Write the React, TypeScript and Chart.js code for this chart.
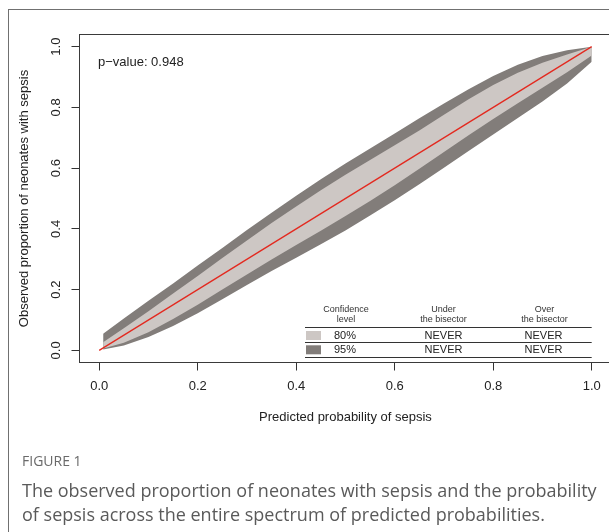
import React, { useEffect, useRef } from "react";
import { Chart, registerables } from "chart.js";

Chart.register(...registerables);

// ---- data ----
const predicted = [0.008, 0.05, 0.10, 0.15, 0.20, 0.25, 0.30, 0.35, 0.40, 0.45, 0.50, 0.55, 0.60, 0.65, 0.70, 0.75, 0.80, 0.85, 0.90, 0.95, 1.0];
const upper95 = [0.055, 0.105, 0.163, 0.220, 0.279, 0.337, 0.396, 0.453, 0.509, 0.563, 0.615, 0.665, 0.714, 0.764, 0.813, 0.860, 0.903, 0.940, 0.969, 0.988, 1.0];
const upper80 = [0.027, 0.073, 0.129, 0.187, 0.245, 0.304, 0.362, 0.419, 0.474, 0.527, 0.578, 0.627, 0.675, 0.724, 0.776, 0.827, 0.874, 0.914, 0.947, 0.974, 1.0];
const lower80 = [0.006, 0.025, 0.060, 0.103, 0.150, 0.200, 0.250, 0.299, 0.347, 0.394, 0.442, 0.492, 0.544, 0.598, 0.653, 0.708, 0.762, 0.814, 0.865, 0.916, 0.971];
const lower95 = [0.003, 0.016, 0.044, 0.080, 0.122, 0.168, 0.215, 0.261, 0.305, 0.349, 0.395, 0.444, 0.494, 0.547, 0.601, 0.656, 0.711, 0.765, 0.819, 0.879, 0.950];
const bisectorX = [0, 1];
const bisectorY = [0, 1];
const xTicks = [0, 0.2, 0.4, 0.6, 0.8, 1.0];
const yTicks = [0, 0.2, 0.4, 0.6, 0.8, 1.0];
const tableHeaders = [["Confidence", "level"], ["Under", "the bisector"], ["Over", "the bisector"]];
const confidenceLevels = ["80%", "95%"];
const underBisector = ["NEVER", "NEVER"];
const overBisector = ["NEVER", "NEVER"];
const pValueText = "p\u2212value: 0.948";
const xTitle = "Predicted probability of sepsis";
const yTitle = "Observed proportion of neonates with sepsis";
const figureLabel = "FIGURE 1";
const captionText = "The observed proportion of neonates with sepsis and the probability of sepsis across the entire spectrum of predicted probabilities.";

const FONT = "'Liberation Sans', Arial, Helvetica, sans-serif";
const LIGHT = "#cdc7c4";
const DARK = "#827d7a";
const RED = "#e3291f";
const INK = "#222222";

const pts = (ys: number[]) => predicted.map((x, i) => ({ x, y: ys[i] }));

const overlay = {
  id: "overlay",
  afterDatasetsDraw(chart: any) {
    const { ctx, chartArea: ca } = chart;
    ctx.save();
    ctx.strokeStyle = "#3a3a3a";
    ctx.lineWidth = 1;
    ctx.strokeRect(ca.left, ca.top, ca.right - ca.left, ca.bottom - ca.top);
    ctx.restore();
  },
  afterDraw(chart: any) {
    const { ctx } = chart;
    const ys = chart.scales.y;
    const xs = chart.scales.x;
    ctx.save();
    // y tick labels (rotated, parallel to axis)
    ctx.fillStyle = INK;
    ctx.font = `13px ${FONT}`;
    ctx.textAlign = "center";
    ctx.textBaseline = "middle";
    yTicks.forEach((v) => {
      const py = ys.getPixelForValue(v);
      ctx.save();
      ctx.translate(56, py);
      ctx.rotate(-Math.PI / 2);
      ctx.fillText(v.toFixed(1), 0, 0);
      ctx.restore();
    });
    // p-value
    ctx.textAlign = "left";
    ctx.fillText(pValueText, 98, 62);

    // table
    const colX = [346, 443.5, 544.5];
    const left = 305;
    const right = xs.getPixelForValue(1.0);
    ctx.fillStyle = "#333";
    ctx.font = `9px ${FONT}`;
    ctx.textAlign = "center";
    tableHeaders.forEach((h, i) => {
      ctx.fillText(h[0], colX[i], 310);
      ctx.fillText(h[1], colX[i], 319.5);
    });
    ctx.strokeStyle = "#333";
    ctx.lineWidth = 1;
    [327.5, 342.5, 357.5].forEach((y) => {
      ctx.beginPath();
      ctx.moveTo(left, y);
      ctx.lineTo(right, y);
      ctx.stroke();
    });
    const rowY = [335.5, 349.8];
    const swatch = [LIGHT, DARK];
    ctx.font = `11px ${FONT}`;
    confidenceLevels.forEach((lv, i) => {
      ctx.fillStyle = swatch[i];
      ctx.fillRect(306, rowY[i] - 4.5, 15, 9);
      ctx.fillStyle = "#222";
      ctx.fillText(lv, 345, rowY[i]);
      ctx.fillText(underBisector[i], colX[1], rowY[i]);
      ctx.fillText(overBisector[i], colX[2] - 1, rowY[i]);
    });
    ctx.restore();
  },
};

export default function App() {
  const ref = useRef<HTMLCanvasElement | null>(null);
  useEffect(() => {
    if (!ref.current) return;
    const band = (ys: number[], color: string | null) => ({
      data: pts(ys),
      borderColor: "rgba(0,0,0,0)",
      borderWidth: 0,
      pointRadius: 0,
      backgroundColor: color || "rgba(0,0,0,0)",
      fill: color ? "+1" : false,
    });
    const chart = new Chart(ref.current, {
      type: "line",
      data: {
        datasets: [
          {
            label: "bisector",
            data: bisectorX.map((x, i) => ({ x, y: bisectorY[i] })),
            borderColor: RED,
            borderWidth: 1.3,
            pointRadius: 0,
            fill: false,
          },
          { label: "upper80", ...band(upper80, LIGHT) },
          { label: "lower80", ...band(lower80, null) },
          { label: "upper95", ...band(upper95, DARK) },
          { label: "lower95", ...band(lower95, null) },
        ],
      },
      options: {
        animation: false,
        responsive: false,
        devicePixelRatio: 1,
        layout: { padding: { left: 0, top: 34.5, right: 8.6, bottom: 106.7 } },
        plugins: { legend: { display: false }, tooltip: { enabled: false } },
        scales: {
          x: {
            type: "linear",
            min: -0.04,
            max: 1.04,
            afterBuildTicks: (s: any) => {
              s.ticks = xTicks.map((v) => ({ value: v }));
            },
            afterFit: (s: any) => {
              s.height = 62.8;
            },
            grid: { display: true, drawOnChartArea: false, drawTicks: true, tickLength: 8, color: "#333", lineWidth: 1 },
            border: { display: false },
            ticks: {
              autoSkip: false,
              maxRotation: 0,
              padding: 8.4,
              color: INK,
              font: { family: FONT, size: 13 },
              callback: (v: any) => Number(v).toFixed(1),
            },
            title: { display: true, text: xTitle, color: INK, font: { family: FONT, size: 13 }, padding: { top: 0, bottom: 0 } },
          },
          y: {
            type: "linear",
            min: -0.04,
            max: 1.04,
            afterBuildTicks: (s: any) => {
              s.ticks = yTicks.map((v) => ({ value: v }));
            },
            afterFit: (s: any) => {
              s.width = 79.5;
            },
            grid: { display: true, drawOnChartArea: false, drawTicks: true, tickLength: 8, color: "#333", lineWidth: 1 },
            border: { display: false },
            ticks: { display: false },
            title: { display: true, text: yTitle, color: INK, font: { family: FONT, size: 13 }, padding: { top: 16.2, bottom: 0 } },
          },
        },
      },
      plugins: [overlay],
    } as any);
    return () => chart.destroy();
  }, []);

  return (
    <div style={{ position: "fixed", left: 0, top: 0, width: 609, height: 532, overflow: "hidden", background: "#fff" }}>
      <div style={{ position: "absolute", left: 8, top: 9, width: 800, height: 800, borderTop: "1px solid #707070", borderLeft: "1px solid #707070" }} />
      <canvas ref={ref} width={620} height={532} style={{ position: "absolute", left: 0, top: 0, width: 620, height: 532 }} />
      <div style={{ position: "absolute", left: 22, top: 453, fontFamily: "'Open Sans', sans-serif", fontSize: 14, lineHeight: "16px", color: "#6a6a6a" }}>
        {figureLabel}
      </div>
      <div style={{ position: "absolute", left: 22, top: 479, width: 585, fontFamily: "'Open Sans', sans-serif", fontSize: 18, lineHeight: "23.5px", color: "#5a5a5a" }}>
        {captionText}
      </div>
    </div>
  );
}
